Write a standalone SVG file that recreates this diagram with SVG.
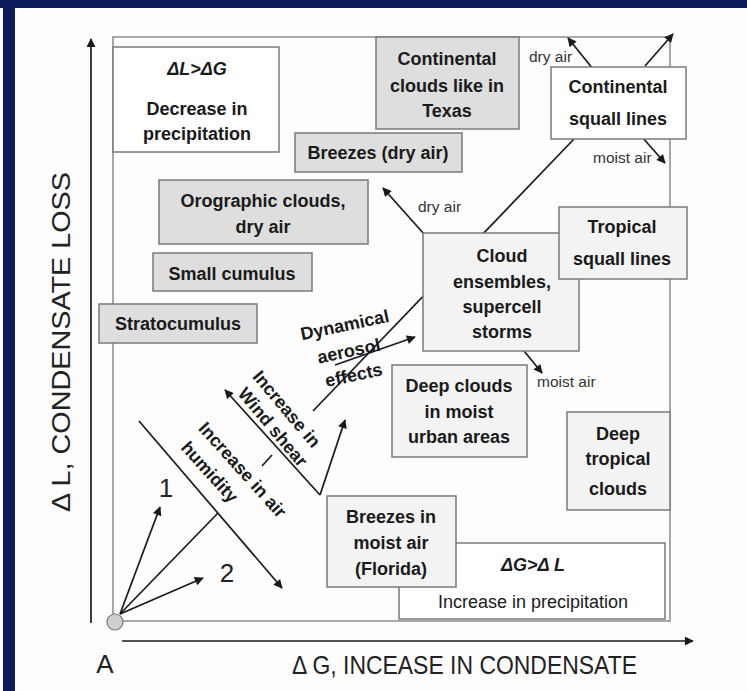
<svg xmlns="http://www.w3.org/2000/svg" width="747" height="691" viewBox="0 0 747 691">
<defs>
<marker id="ah" viewBox="0 0 10 10" refX="9" refY="5" markerWidth="11" markerHeight="9" markerUnits="userSpaceOnUse" orient="auto">
<path d="M0,0 L10,5 L0,10 Z" fill="#1a1a1a"/>
</marker>
</defs>
<style>
.bx{stroke:#7a7a7a;stroke-width:1.5}
.g{fill:#dedede}
.lt{fill:#f3f3f3}
.w{fill:#ffffff}
.t{font-family:"Liberation Sans",Arial,sans-serif;font-weight:bold;font-size:18px;fill:#1a1a1a;text-anchor:middle}
.r{font-family:"Liberation Sans",Arial,sans-serif;font-weight:normal;font-size:18px;fill:#1a1a1a;text-anchor:middle}
.s{font-family:"Liberation Sans",Arial,sans-serif;font-size:15.5px;fill:#333}
.ax{font-family:"Liberation Sans",Arial,sans-serif;font-size:26px;fill:#222}
.ln{stroke:#1a1a1a;stroke-width:1.7;fill:none}
.ar{stroke:#1a1a1a;stroke-width:1.7;fill:none;marker-end:url(#ah)}
</style>
<rect x="0" y="0" width="747" height="691" fill="#fdfdfd"/>
<rect x="0" y="0" width="747" height="8" fill="#0b1c58"/>
<rect x="3" y="0" width="12" height="691" fill="#0b1c58"/>

<rect id="frame" x="113" y="37" width="557" height="584" fill="none" stroke="#8a8a8a" stroke-width="1.5"/>

<g id="connectors">
<line class="ar" x1="91" y1="623" x2="91" y2="39"/>
<line class="ar" x1="122" y1="641" x2="693" y2="641"/>
<line class="ln" x1="313" y1="411" x2="574" y2="139"/>
<line class="ar" x1="593" y1="69" x2="568" y2="38"/>
<line class="ar" x1="645" y1="66" x2="673" y2="34"/>
<line class="ar" x1="642" y1="137" x2="665" y2="163"/>
<line class="ar" x1="424" y1="234" x2="383" y2="188"/>
<line class="ar" x1="335" y1="365" x2="415" y2="337"/>
<line class="ar" x1="520" y1="346" x2="542" y2="373"/>
<line class="ar" x1="320" y1="495" x2="225" y2="390"/>
<line class="ar" x1="320" y1="495" x2="345" y2="420"/>
<line class="ar" x1="139" y1="421" x2="282" y2="588"/>
<line class="ar" x1="120" y1="614" x2="160" y2="507"/>
<line class="ar" x1="120" y1="614" x2="203" y2="578"/>
<line class="ln" x1="120" y1="614" x2="218" y2="513"/>
<line class="ln" x1="262" y1="466" x2="272" y2="455"/>
</g>

<g id="origin"><circle cx="115" cy="622" r="8" fill="#d0d0d0" stroke="#777" stroke-width="1.2"/></g>

<g id="n-decrease">
<rect class="bx w" x="113" y="47" width="166" height="105"/>
<text class="t" x="197" y="75" font-style="italic">ΔL&gt;ΔG</text>
<text class="t" x="197" y="115">Decrease in</text>
<text class="t" x="197" y="140">precipitation</text>
</g>
<g id="n-texas">
<rect class="bx g" x="376" y="37" width="143" height="92"/>
<text class="t" x="447" y="65">Continental</text>
<text class="t" x="447" y="92">clouds like in</text>
<text class="t" x="447" y="117">Texas</text>
</g>
<g id="n-contsquall">
<rect class="bx w" x="551" y="67" width="135" height="72"/>
<text class="t" x="618" y="93">Continental</text>
<text class="t" x="618" y="125">squall lines</text>
</g>
<g id="n-breezesdry">
<rect class="bx g" x="295" y="133" width="167" height="39"/>
<text class="t" x="378" y="159">Breezes (dry air)</text>
</g>
<g id="n-orographic">
<rect class="bx g" x="159" y="180" width="209" height="64"/>
<text class="t" x="263" y="207">Orographic clouds,</text>
<text class="t" x="263" y="233">dry air</text>
</g>
<g id="n-smallcu">
<rect class="bx g" x="153" y="253" width="159" height="38"/>
<text class="t" x="232" y="280">Small cumulus</text>
</g>
<g id="n-strato">
<rect class="bx g" x="99" y="304" width="158" height="39"/>
<text class="t" x="178" y="330">Stratocumulus</text>
</g>
<g id="n-ensembles">
<rect class="bx lt" x="423" y="233" width="156" height="118"/>
<text class="t" x="502" y="262">Cloud</text>
<text class="t" x="502" y="288">ensembles,</text>
<text class="t" x="502" y="313">supercell</text>
<text class="t" x="502" y="338">storms</text>
</g>
<g id="n-tropsquall">
<rect class="bx lt" x="559" y="207" width="128" height="72"/>
<text class="t" x="622" y="233">Tropical</text>
<text class="t" x="622" y="265">squall lines</text>
</g>
<g id="n-deepurban">
<rect class="bx lt" x="392" y="365" width="135" height="92"/>
<text class="t" x="459" y="392">Deep clouds</text>
<text class="t" x="459" y="418">in moist</text>
<text class="t" x="459" y="443">urban areas</text>
</g>
<g id="n-deeptrop">
<rect class="bx lt" x="567" y="412" width="103" height="98"/>
<text class="t" x="618" y="440">Deep</text>
<text class="t" x="618" y="465">tropical</text>
<text class="t" x="618" y="495">clouds</text>
</g>
<g id="n-increase">
<rect class="bx w" x="399" y="543" width="266" height="76"/>
<text class="t" x="533" y="571" font-style="italic">ΔG&gt;Δ L</text>
<text class="r" x="533" y="608">Increase in precipitation</text>
</g>
<g id="n-breezesmoist">
<rect class="bx lt" x="327" y="496" width="129" height="91"/>
<text class="t" x="391" y="523">Breezes in</text>
<text class="t" x="391" y="549">moist air</text>
<text class="t" x="391" y="575">(Florida)</text>
</g>

<g id="labels">
<text class="s" x="529" y="62">dry air</text>
<text class="s" x="593" y="163">moist air</text>
<text class="s" x="418" y="212">dry air</text>
<text class="s" x="537" y="387">moist air</text>
<text class="ax" x="166" y="497" text-anchor="middle" font-size="22">1</text>
<text class="ax" x="227" y="582" text-anchor="middle" font-size="22">2</text>
<text class="t" transform="translate(346,331) rotate(-12)">Dynamical</text>
<text class="t" transform="translate(350,357) rotate(-12)">aerosol</text>
<text class="t" transform="translate(355,381) rotate(-12)">effects</text>
<text class="t" transform="translate(282,413) rotate(50)">Increase in</text>
<text class="t" transform="translate(268,431) rotate(50)">Wind shear</text>
<text class="t" transform="translate(238,474) rotate(48)">Increase in air</text>
<text class="t" transform="translate(205,476) rotate(48)">humidity</text>
<text class="ax" x="105" y="673" text-anchor="middle">A</text>
<text class="ax" x="292" y="674" textLength="345" lengthAdjust="spacingAndGlyphs">Δ G, INCEASE IN CONDENSATE</text>
<text class="ax" transform="translate(70,342) rotate(-90)" text-anchor="middle" textLength="340" lengthAdjust="spacingAndGlyphs">Δ L, CONDENSATE LOSS</text>
</g>
</svg>
